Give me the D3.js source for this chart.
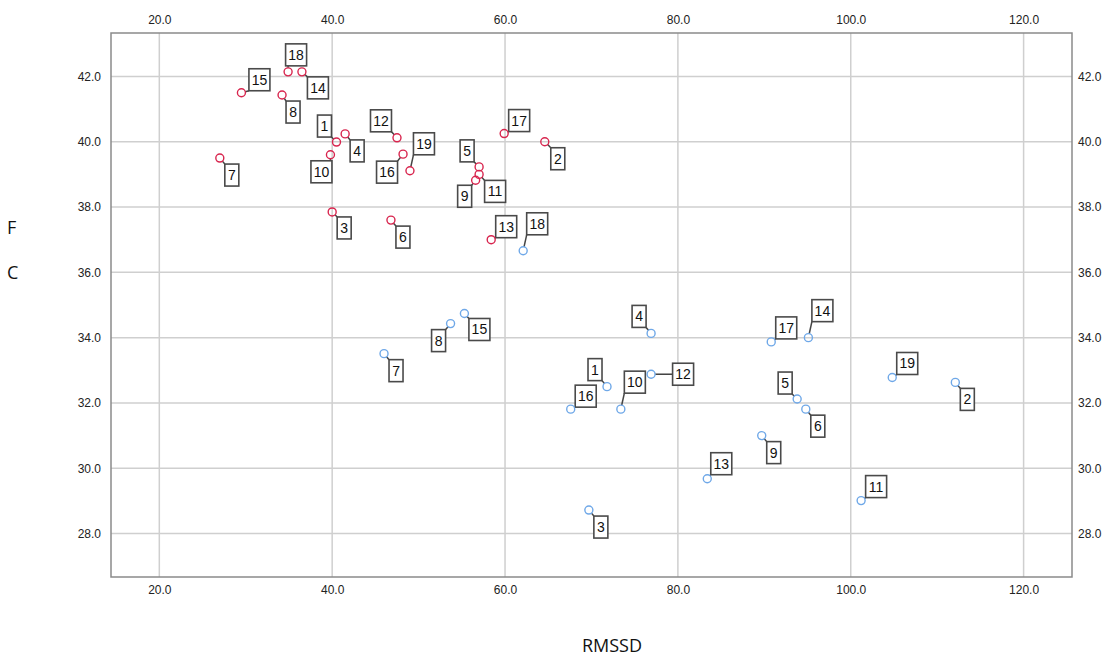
<!DOCTYPE html>
<html>
<head>
<meta charset="utf-8">
<script src="https://cdn.jsdelivr.net/npm/d3@7"></script>
<style>
  body { margin: 0; background: #fff; }
  svg { display: block; }
  .tick-lbl { font-family: "Liberation Sans", Arial, sans-serif; font-size: 12px; fill: #222; }
  .pt-lbl { font-family: "Liberation Sans", Arial, sans-serif; font-size: 14px; fill: #111; }
  .ax-title { font-family: "Open Sans", "Noto Sans", sans-serif; font-size: 18px; fill: #111; }
</style>
</head>
<body>
<svg id="chart"></svg>
<script>
// case ids
var ids = [1, 2, 3, 4, 5, 6, 7, 8, 9, 10, 11, 12, 13, 14, 15, 16, 17, 18, 19];

// red group
var redX = [40.5, 64.6, 40.0, 41.5, 57.0, 46.8, 27.0, 34.2, 56.6, 39.8, 57.0, 47.5, 58.4, 36.5, 29.5, 48.2, 59.9, 34.9, 49.0];
var redY = [39.99, 40.0, 37.85, 40.24, 39.23, 37.6, 39.5, 41.43, 38.82, 39.6, 39.0, 40.12, 37.0, 42.14, 41.5, 39.62, 40.25, 42.14, 39.11];

// blue group
var blueX = [71.8, 112.1, 69.7, 76.9, 93.8, 94.8, 46.0, 53.7, 89.7, 73.4, 101.2, 76.9, 83.4, 95.1, 55.3, 67.6, 90.8, 62.1, 104.8];
var blueY = [32.5, 32.63, 28.72, 34.13, 32.12, 31.81, 33.51, 34.43, 31.0, 31.81, 29.01, 32.88, 29.68, 34.0, 34.74, 31.81, 33.87, 36.66, 32.78];

var xTicks = [20, 40, 60, 80, 100, 120];
var yTicks = [28, 30, 32, 34, 36, 38, 40, 42];

// label box offsets (px) from the marker, layout only
var redLabelPos = [[-12,-16],[13,17],[12,16],[12,17],[-12,-16],[12,17],[12,17],[11,17],[-11,16],[-9,17],[16,17],[-16,-17],[15,-13],[16,16],[18,-13],[-16,18],[15,-13],[8,-17],[14,-27]];
var blueLabelPos = [[-12,-17],[12,17],[12,17],[-12,-17],[-12,-16],[12,17],[12,17],[-12,17],[12,17],[14,-27],[15,-14],[32,0],[14,-15],[14,-27],[15,16],[15,-13],[15,-14],[14,-27],[15,-14]];

var W = 1108, H = 656;
var m = { left: 111, top: 33, right: 1072, bottom: 577 };

var svg = d3.select("#chart").attr("width", W).attr("height", H);

var x = d3.scaleLinear().domain([14.41, 125.6]).range([m.left, m.right]);
var y = d3.scaleLinear().domain([26.67, 43.33]).range([m.bottom, m.top]);

// gridlines
svg.append("g").selectAll("line").data(xTicks).enter().append("line")
  .attr("x1", function(d) { return x(d); }).attr("x2", function(d) { return x(d); })
  .attr("y1", m.top).attr("y2", m.bottom)
  .attr("stroke", "#cfcfcf").attr("stroke-width", 1.5);
svg.append("g").selectAll("line").data(yTicks).enter().append("line")
  .attr("y1", function(d) { return y(d); }).attr("y2", function(d) { return y(d); })
  .attr("x1", m.left).attr("x2", m.right)
  .attr("stroke", "#cfcfcf").attr("stroke-width", 1.5);

// axes (labels only, no tick marks)
var fmt = d3.format(".1f");
function styleAxis(g) {
  g.select(".domain").remove();
  g.selectAll(".tick line").remove();
  g.selectAll(".tick text").attr("class", "tick-lbl").attr("fill", null);
  g.attr("font-family", null).attr("font-size", null);
}
svg.append("g").attr("transform", "translate(0," + m.top + ")")
  .call(d3.axisTop(x).tickValues(xTicks).tickFormat(fmt).tickSize(0).tickPadding(9)).call(styleAxis);
svg.append("g").attr("transform", "translate(0," + m.bottom + ")")
  .call(d3.axisBottom(x).tickValues(xTicks).tickFormat(fmt).tickSize(0).tickPadding(8)).call(styleAxis);
svg.append("g").attr("transform", "translate(" + m.left + ",0)")
  .call(d3.axisLeft(y).tickValues(yTicks).tickFormat(fmt).tickSize(0).tickPadding(10)).call(styleAxis);
svg.append("g").attr("transform", "translate(" + m.right + ",0)")
  .call(d3.axisRight(y).tickValues(yTicks).tickFormat(fmt).tickSize(0).tickPadding(6)).call(styleAxis);

// frame
svg.append("rect")
  .attr("x", m.left).attr("y", m.top)
  .attr("width", m.right - m.left).attr("height", m.bottom - m.top)
  .attr("fill", "none").attr("stroke", "#8a8a8a").attr("stroke-width", 1.5);

// axis titles
svg.append("text").attr("class", "ax-title").attr("x", 7).attr("y", 234).text("F");
svg.append("text").attr("class", "ax-title").attr("x", 7).attr("y", 279).text("C");
svg.append("text").attr("class", "ax-title").attr("x", 612).attr("y", 652)
  .attr("text-anchor", "middle").text("RMSSD");

function drawGroup(xs, ys, pos, color) {
  var pts = ids.map(function(id, i) {
    return { id: id, px: x(xs[i]), py: y(ys[i]), dx: pos[i][0], dy: pos[i][1] };
  });
  var g = svg.append("g");

  pts.forEach(function(p) {
    var w = String(p.id).length > 1 ? 21 : 14, h = 22;
    var cx = p.px + p.dx, cy = p.py + p.dy;
    var bx = cx - w / 2, by = cy - h / 2;
    // leader from marker edge to nearest point of box
    var nx = Math.max(bx, Math.min(p.px, bx + w));
    var ny = Math.max(by, Math.min(p.py, by + h));
    var dist = Math.hypot(nx - p.px, ny - p.py);
    if (dist > 4.5) {
      g.append("line")
        .attr("x1", p.px + (nx - p.px) / dist * 4).attr("y1", p.py + (ny - p.py) / dist * 4)
        .attr("x2", nx).attr("y2", ny)
        .attr("stroke", "#444").attr("stroke-width", 1.5);
    }
    g.append("rect").attr("x", bx).attr("y", by).attr("width", w).attr("height", h)
      .attr("fill", "#fff").attr("stroke", "#4a4a4a").attr("stroke-width", 1.6);
    g.append("text").attr("class", "pt-lbl")
      .attr("x", cx).attr("y", cy + 5).attr("text-anchor", "middle").text(p.id);
  });

  g.selectAll("circle").data(pts).enter().append("circle")
    .attr("cx", function(d) { return d.px; })
    .attr("cy", function(d) { return d.py; })
    .attr("r", 4)
    .attr("fill", "none")
    .attr("stroke", color)
    .attr("stroke-width", 1.4);
}

drawGroup(redX, redY, redLabelPos, "#d8254e");
drawGroup(blueX, blueY, blueLabelPos, "#6fa8e8");
</script>
</body>
</html>
